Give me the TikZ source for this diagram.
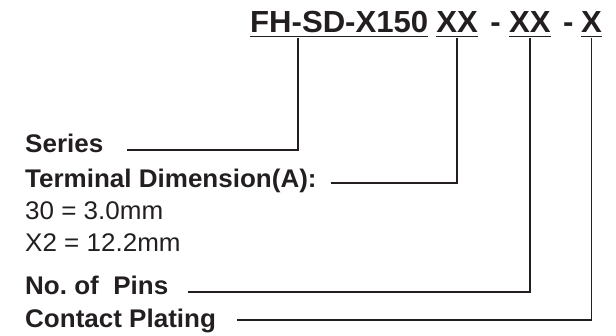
\documentclass[tikz,border=0pt]{standalone}
\usepackage{fontspec}
\setmainfont{Liberation Sans}[FakeStretch=1.02]
\usetikzlibrary{positioning}
\definecolor{ink}{HTML}{231F20}

\tikzset{
  code/.style={font=\bfseries\fontsize{30.5}{34}\selectfont, text=ink, inner sep=0pt, anchor=base west},
  lab/.style={font=\bfseries\fontsize{25.5}{29}\selectfont, text=ink, inner sep=0pt, anchor=base west},
  val/.style={font=\fontsize{25.5}{29}\selectfont, text=ink, inner sep=0pt, anchor=base west},
  lead/.style={draw=ink, line width=1.8pt},
  uline/.style={draw=ink, line width=1.8pt}
}

\begin{document}
\begin{tikzpicture}[x=1pt,y=-1pt]
\useasboundingbox (0,0) rectangle (616,336);

% part number
\node[code] (base) at (250,33) {FH-SD-X150};
\node[code, base right=7.6pt of base] (dim) {XX};
\node[code, base right=12.2pt of dim] (dasha) {-};
\node[code, base right=8pt of dasha] (pins) {XX};
\node[code, base right=12.2pt of pins] (dashb) {-};
\node[code, base right=7.1pt of dashb] (plate) {X};

\foreach \n in {base,dim,pins,plate}
  \draw[uline] ([yshift=-3.5pt]\n.base west) -- ([yshift=-3.5pt]\n.base east);

% labels
\node[lab] (series) at (25,153) {Series};
\node[lab] (term) at (25,188) {Terminal Dimension(A):};
\node[val] (opta) at (25,220) {30 = 3.0mm};
\node[val] (optb) at (25,252) {X2 = 12.2mm};
\node[lab] (npins) at (25,295) {No.\ of\ \ Pins};
\node[lab] (cplate) at (25,328) {Contact Plating};

% leaders
\draw[lead] ([xshift=24pt,yshift=3pt]series.base east) -| ([xshift=48pt,yshift=-5pt]base.base west);
\draw[lead] ([xshift=14pt,yshift=5pt]term.base east) -| ([yshift=-5pt]dim.base);
\draw[lead] ([xshift=20pt,yshift=3pt]npins.base east) -| ([yshift=-5pt]pins.base);
\draw[lead] ([xshift=21pt,yshift=8pt]cplate.base east) -| ([yshift=-5pt]plate.base);

\end{tikzpicture}
\end{document}
